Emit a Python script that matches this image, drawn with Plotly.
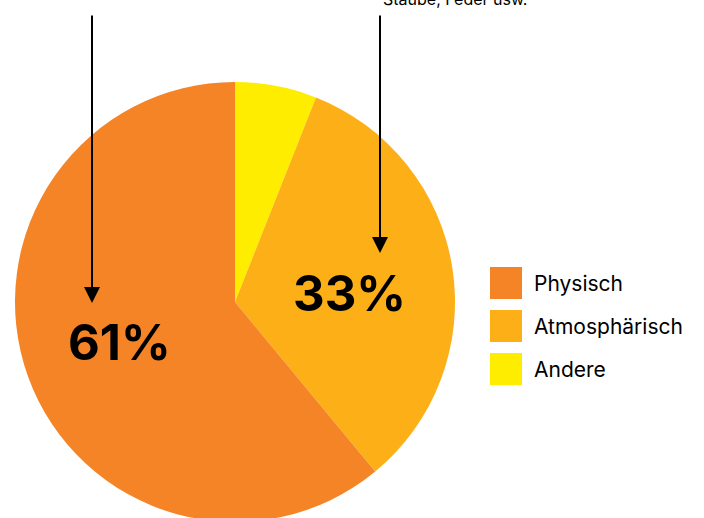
import plotly.graph_objects as go

labels = ["Physisch", "Atmosphärisch", "Andere"]
values = [61, 33, 6]
colors = ["#F58426", "#FCAF17", "#FFED00"]
top_note = "Staube, Feder usw."

W, H = 704, 524
FONT = "Inter"

def px(x):
    return x / W

def py(y):
    return 1 - y / H

fig = go.Figure()
fig.add_trace(go.Pie(
    labels=labels[::-1], values=values[::-1], sort=False, direction="clockwise",
    rotation=0, textinfo="none", hoverinfo="none", showlegend=False,
    marker=dict(colors=colors[::-1], line=dict(width=0)),
    domain=dict(x=[px(15), px(455)], y=[py(522), py(82)]),
))

annotations = []
# percent labels
pct_pos = {"Physisch": (119, 342), "Atmosphärisch": (349, 293)}
for lab, val in zip(labels, values):
    if lab in pct_pos:
        x, y = pct_pos[lab]
        annotations.append(dict(
            x=px(x), y=py(y), xref="paper", yref="paper", text=f"<b>{val}%</b>",
            showarrow=False, xanchor="center", yanchor="middle",
            font=dict(family=FONT, size=49, color="#000000")))

# arrows
for (x, ytip) in [(92, 303), (380, 253)]:
    annotations.append(dict(
        x=px(x), y=py(ytip), xref="paper", yref="paper", text="",
        showarrow=True, ax=0, ay=14 - ytip, arrowhead=2, arrowsize=1.6,
        arrowwidth=2, arrowcolor="#000000", standoff=0))

annotations.append(dict(
    x=px(381), y=py(11), xref="paper", yref="paper", text=top_note,
    showarrow=False, xanchor="left", yanchor="bottom",
    font=dict(family=FONT, size=16, color="#000000")))

# custom legend
shapes = []
for i, (lab, col) in enumerate(zip(labels, colors)):
    y0 = 267 + i * 43
    shapes.append(dict(type="rect", xref="paper", yref="paper",
                       x0=px(490), x1=px(522), y0=py(y0 + 32), y1=py(y0),
                       fillcolor=col, line=dict(width=0)))
    annotations.append(dict(
        x=px(532), y=py(y0 + 16), xref="paper", yref="paper", text=lab,
        showarrow=False, xanchor="left", yanchor="middle",
        font=dict(family=FONT, size=21, color="#000000")))

fig.update_layout(
    width=W, height=H, margin=dict(l=0, r=0, t=0, b=0),
    paper_bgcolor="white", plot_bgcolor="white",
    annotations=annotations, shapes=shapes,
)

fig.write_html("out.html", post_script="document.body.style.overflow='hidden';document.documentElement.style.overflow='hidden';")
